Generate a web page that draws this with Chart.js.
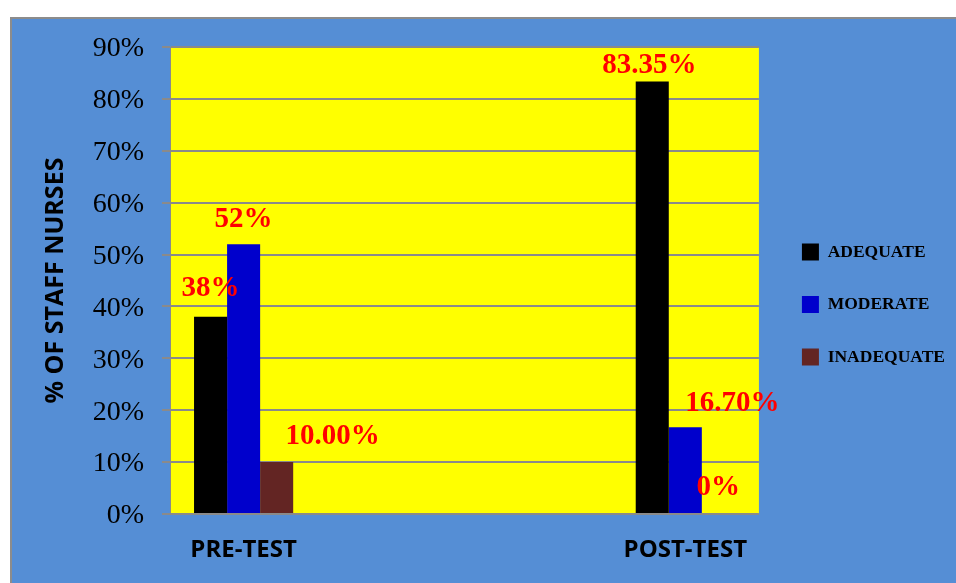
<!DOCTYPE html>
<html><head><meta charset="utf-8">
<script src="https://cdn.jsdelivr.net/npm/chart.js@4"></script>
<style>
html,body{margin:0;padding:0;background:#fff;width:956px;height:583px;overflow:hidden}
#frame{position:absolute;left:10px;top:17px;width:944px;height:564px;border-left:2px solid #8c8c8c;border-top:2px solid #8c8c8c;background:#558ED5}
canvas{display:block}
</style></head><body>
<div id="frame"><canvas id="c" width="944" height="564" style="width:944px;height:564px"></canvas></div>
<script>
// ---- data ----
const categories = ['PRE-TEST', 'POST-TEST'];
const seriesNames = ['ADEQUATE', 'MODERATE', 'INADEQUATE'];
const adequate = [38, 83.35];
const moderate = [52, 16.70];
const inadequate = [10, 0];
const adequateLabels = ['38%', '83.35%'];
const moderateLabels = ['52%', '16.70%'];
const inadequateLabels = ['10.00%', '0%'];
const yMin = 0, yMax = 90, yStep = 10;

// ---- layout / style (not data) ----
const slotCount = 4;
const slotIndex = [0, 3];
const colors = ['#000000', '#0000CC', '#632523'];
const labelOffsets = [
  [[0, -28], [-3, -16]],
  [[0, -25], [47, -24]],
  [[56, -26], [0, -26]]
];

function toSlots(arr) {
  const out = new Array(slotCount).fill(null);
  arr.forEach((v, i) => { out[slotIndex[i]] = v; });
  return out;
}
const slotLabels = toSlots(categories).map(v => v === null ? '' : v);
const seriesValues = [adequate, moderate, inadequate];
const seriesLabels = [adequateLabels, moderateLabels, inadequateLabels];

const plotBg = {
  id: 'plotBg',
  beforeDraw(chart) {
    const {ctx, chartArea: a} = chart;
    ctx.save();
    ctx.fillStyle = '#FFFF00';
    ctx.fillRect(a.left, a.top, a.right - a.left, a.bottom - a.top);
    ctx.restore();
  }
};
const valueLabels = {
  id: 'valueLabels',
  afterDatasetsDraw(chart) {
    const ctx = chart.ctx;
    ctx.save();
    ctx.font = 'bold 29px "Liberation Serif", "Times New Roman", serif';
    ctx.fillStyle = '#FF0000';
    ctx.textAlign = 'center';
    ctx.textBaseline = 'middle';
    seriesLabels.forEach((labels, d) => {
      const meta = chart.getDatasetMeta(d);
      labels.forEach((txt, i) => {
        const el = meta.data[slotIndex[i]];
        if (!el) return;
        const off = labelOffsets[d][i];
        ctx.fillText(txt, el.x + off[0], el.y + off[1]);
      });
    });
    ctx.restore();
  }
};

new Chart(document.getElementById('c'), {
  type: 'bar',
  data: {
    labels: slotLabels,
    datasets: seriesNames.map((name, d) => ({
      label: name,
      data: toSlots(seriesValues[d]),
      backgroundColor: colors[d],
      borderColor: colors[d],
      borderWidth: 0,
      categoryPercentage: 0.6735,
      barPercentage: 1
    }))
  },
  options: {
    responsive: false,
    animation: false,
    events: [],
    layout: { padding: { top: 28, bottom: 21, left: 0, right: 1 } },
    plugins: {
      tooltip: { enabled: false },
      legend: {
        position: 'right',
        labels: {
          boxWidth: 17,
          boxHeight: 17,
          padding: 35,
          color: '#000000',
          font: { family: '"Liberation Serif", "Times New Roman", serif', size: 17.5, weight: 'bold' }
        }
      }
    },
    scales: {
      x: {
        grid: { display: false, drawTicks: false },
        border: { display: false },
        ticks: {
          padding: 22,
          color: '#000',
          maxRotation: 0,
          autoSkip: false,
          font: { family: '"Open Sans", sans-serif', size: 24, weight: 'bold' }
        },
        afterFit(s) { s.height = 48; }
      },
      y: {
        min: yMin, max: yMax,
        grid: { color: '#8a8a8a', lineWidth: 2, tickLength: 8, drawTicks: true },
        border: { display: true, color: '#8a8a8a', width: 1 },
        ticks: {
          stepSize: yStep,
          padding: 18,
          labelOffset: 2,
          color: '#000',
          font: { family: '"Liberation Serif", "Times New Roman", serif', size: 28, lineHeight: 0.6 },
          callback: v => v + '%'
        },
        title: {
          display: true,
          text: '% OF STAFF NURSES',
          color: '#000',
          padding: { top: 29, bottom: 0 },
          font: { family: '"Open Sans", sans-serif', size: 25, weight: 'bold' }
        },
        afterFit(s) { s.width = 158; }
      },
      spacer: {
        type: 'linear',
        position: 'right',
        display: false,
        afterFit(s) { s.width = 8; }
      }
    }
  },
  plugins: [plotBg, valueLabels]
});
</script>
</body></html>
